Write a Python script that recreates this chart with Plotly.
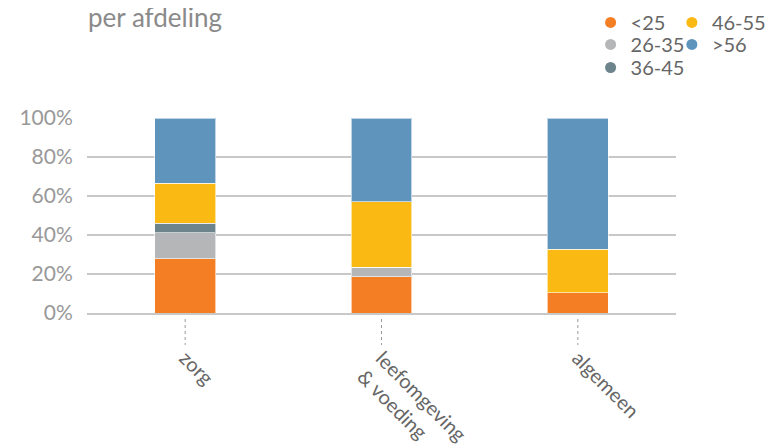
import plotly.graph_objects as go

categories = ["zorg", "leefomgeving<br>& voeding", "algemeen"]
age_groups = ["<25", "26-35", "36-45", "46-55", ">56"]
colors = ["#F47E23", "#B5B6B8", "#6E848C", "#FBBA13", "#5F95BC"]
share_lt25 = [0.277, 0.186, 0.104]
share_26_35 = [0.135, 0.048, 0.0]
share_36_45 = [0.048, 0.0, 0.0]
share_46_55 = [0.205, 0.337, 0.224]
share_gt56 = [0.335, 0.429, 0.672]
y_ticks = [0, 0.2, 0.4, 0.6, 0.8, 1.0]

series = [share_lt25, share_26_35, share_36_45, share_46_55, share_gt56]

# one legend box per entry, laid out in two columns (column-major like the reference)
legend_ids = ["legend", "legend2", "legend3", "legend4", "legend5"]
legend_pos = [(0.855, 1.59), (0.855, 1.477), (0.855, 1.359), (0.993, 1.59), (0.993, 1.477)]

FONT = "Lato"
W, H = 765, 439
fig = go.Figure()
for name, vals, col, lg in zip(age_groups, series, colors, legend_ids):
    fig.add_trace(go.Bar(
        x=categories, y=vals, name=name, width=0.31,
        marker=dict(color=col, line=dict(color="rgba(255,255,255,0.6)", width=1)),
        showlegend=False,
    ))
    fig.add_trace(go.Scatter(
        x=[None], y=[None], mode="markers", name=name, legend=lg,
        marker=dict(color=col, size=11, symbol="circle"),
    ))

for c in categories:
    fig.add_shape(type="line", xref="x", yref="paper", x0=c, x1=c, y0=-0.031, y1=-0.164,
                  line=dict(color="#999999", width=1, dash="dot"))

legends = {}
for lg, (lx, ly) in zip(legend_ids, legend_pos):
    legends[lg] = dict(x=lx, xanchor="left", y=ly, yanchor="top", orientation="v",
                       font=dict(family=FONT, size=20, color="#666666"), itemwidth=30,
                       bgcolor="rgba(0,0,0,0)")

fig.update_layout(
    width=W, height=H,
    margin=dict(l=79, r=97, t=110, b=134, autoexpand=False),
    barmode="stack", bargap=0.69,
    plot_bgcolor="white", paper_bgcolor="white",
    font=dict(family=FONT, color="#666666", size=20),
    title=dict(text="per afdeling", x=80 / W, xanchor="left", y=1 - 10 / H, yanchor="middle",
               font=dict(family=FONT, size=26, color="#8a8a8a")),
    **legends,
)
fig.update_yaxes(range=[0, 1], tickvals=y_ticks, tickformat=".0%", showgrid=True,
                 gridcolor="#c8c8c8", gridwidth=1.5, zeroline=False, showline=False,
                 ticks="outside", ticklen=9, tickcolor="rgba(0,0,0,0)",
                 tickfont=dict(family=FONT, size=21, color="#999999"))
fig.update_xaxes(showline=True, linecolor="#c8c8c8", linewidth=1.5, showgrid=False,
                 ticks="outside", ticklen=24, tickcolor="rgba(0,0,0,0)", tickangle=45,
                 tickfont=dict(family=FONT, size=20, color="#666666"))

fig.write_html("out.html")
